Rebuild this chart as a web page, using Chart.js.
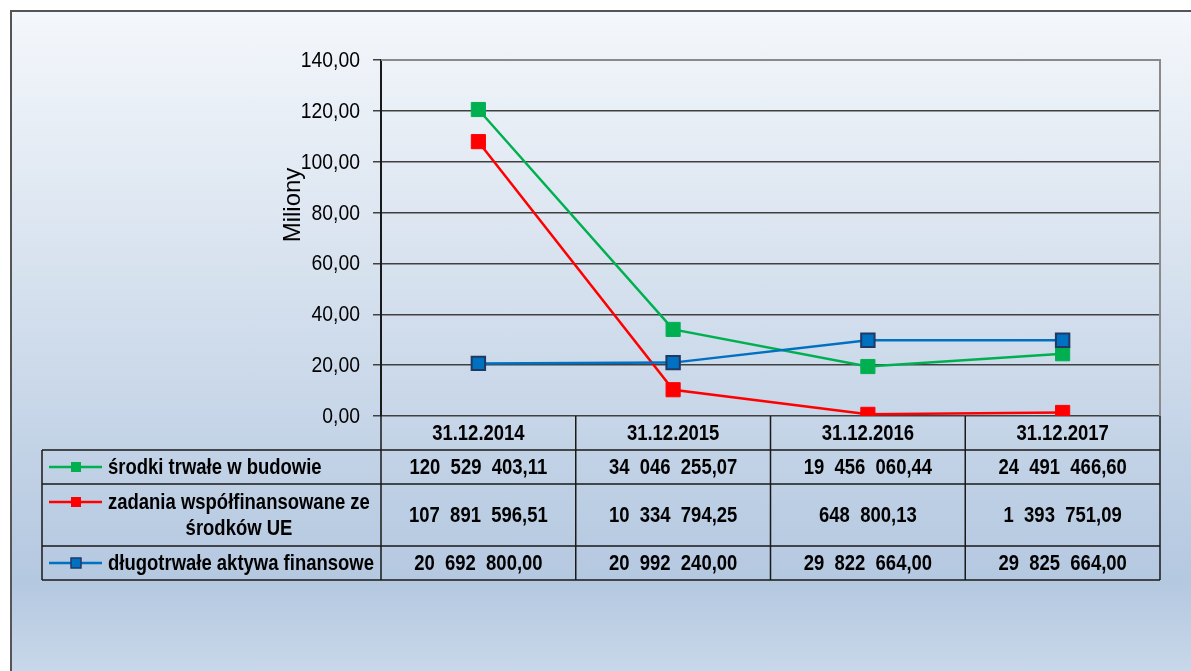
<!DOCTYPE html>
<html lang="pl">
<head>
<meta charset="utf-8">
<title>Wykres</title>
<script src="https://cdn.jsdelivr.net/npm/chart.js@4.4.1/dist/chart.umd.min.js"></script>
<style>
  html, body { margin: 0; padding: 0; background: #fff; overflow: hidden; }
  #frame {
    position: absolute; left: 10px; top: 10px; width: 1200px; height: 700px;
    border: 2px solid #555; box-sizing: border-box;
    background: linear-gradient(to bottom, #f4f7fb 0px, #b4c8e0 570px, #c9d8ea 661px);
  }
  #chart { position: absolute; left: 0; top: 0; }
</style>
</head>
<body>
<div id="frame"></div>
<canvas id="chart" width="1191" height="671"></canvas>
<script>
// Dane
const categories = ["31.12.2014", "31.12.2015", "31.12.2016", "31.12.2017"];
const srodkiTrwale = [120529403.11, 34046255.07, 19456060.44, 24491466.60];
const zadaniaUE = [107891596.51, 10334794.25, 648800.13, 1393751.09];
const aktywaFinansowe = [20692800.00, 20992240.00, 29822664.00, 29825664.00];
const seriesNames = [
  ["środki trwałe w budowie"],
  ["zadania współfinansowane ze", "środków UE"],
  ["długotrwałe aktywa finansowe"],
];
const yTicks = [0, 20, 40, 60, 80, 100, 120, 140];
const yTitle = "Miliony";

const FONT = '"Liberation Sans", Arial, sans-serif';
const NARROW = 0.84; // tekst w oryginale jest zwężony
const colors = ["#00b050", "#ff0000", "#0070c0"];
const allSeries = [srodkiTrwale, zadaniaUE, aktywaFinansowe];

// 120529403.11 -> "120  529  403,11"
function fmtPL(v) {
  const [i, d] = v.toFixed(2).split(".");
  const groups = [];
  for (let k = i.length; k > 0; k -= 3) groups.unshift(i.slice(Math.max(0, k - 3), k));
  return groups.join("  ") + "," + d;
}
const toMln = arr => arr.map(v => v / 1e6);

function narrowText(ctx, text, x, y, align, squeeze) {
  ctx.save();
  ctx.translate(x, y);
  ctx.scale(squeeze, 1);
  ctx.textAlign = align;
  ctx.fillText(text, 0, 0);
  ctx.restore();
}

// üßæ tabela danych pod wykresem + opisy osi Y
const tablePlugin = {
  id: "dataTable",
  beforeDatasetsDraw(chart) {
    const { ctx, chartArea: a } = chart;
    ctx.save();
    ctx.strokeStyle = "#8a8a8a";
    ctx.lineWidth = 2;
    ctx.beginPath();
    ctx.moveTo(a.left, a.top);
    ctx.lineTo(a.right, a.top);
    ctx.lineTo(a.right, a.bottom);
    ctx.stroke();

    // etykiety osi Y
    const ys = chart.scales.y;
    ctx.fillStyle = "#000";
    ctx.font = "22px " + FONT;
    ctx.textBaseline = "middle";
    ys.ticks.forEach(t => {
      const label = Number(t.value).toFixed(2).replace(".", ",");
      narrowText(ctx, label, a.left - 21, ys.getPixelForValue(t.value) + 1, "right", 0.88);
    });

    ctx.save();
    ctx.translate(293, 205);
    ctx.rotate(-Math.PI / 2);
    ctx.font = "24px " + FONT;
    ctx.textAlign = "center";
    ctx.fillText(yTitle, 0, 0);
    ctx.restore();
    ctx.restore();
  },
  afterDraw(chart) {
    const { ctx, chartArea: a } = chart;
    const xs = chart.scales.x;
    const colW = (a.right - a.left) / categories.length;
    const tableLeft = 42;
    const rows = [a.bottom, 450, 484, 546, 580];

    ctx.save();
    ctx.strokeStyle = "#1a1a1a";
    ctx.lineWidth = 1.5;
    ctx.beginPath();
    for (let r = 1; r < rows.length; r++) {
      ctx.moveTo(tableLeft, rows[r]);
      ctx.lineTo(a.right, rows[r]);
    }
    for (let c = 0; c <= categories.length; c++) {
      const x = a.left + c * colW;
      ctx.moveTo(x, a.bottom);
      ctx.lineTo(x, rows[4]);
    }
    ctx.moveTo(tableLeft, rows[1]);
    ctx.lineTo(tableLeft, rows[4]);
    ctx.stroke();

    ctx.fillStyle = "#000";
    ctx.font = "bold 22px " + FONT;
    ctx.textBaseline = "middle";
    categories.forEach((c, i) => {
      narrowText(ctx, c, xs.getPixelForValue(i), (rows[0] + rows[1]) / 2 + 1, "center", NARROW);
    });

    const keyY = [467, 502, 563];
    allSeries.forEach((s, r) => {
      const cy = (rows[r + 1] + rows[r + 2]) / 2 + 1;
      ctx.fillStyle = "#000";
      s.forEach((v, i) => {
        narrowText(ctx, fmtPL(v), xs.getPixelForValue(i), cy, "center", NARROW);
      });

      // klucz legendy
      const ky = keyY[r];
      ctx.strokeStyle = colors[r];
      ctx.lineWidth = 2.5;
      ctx.beginPath();
      ctx.moveTo(49, ky);
      ctx.lineTo(102, ky);
      ctx.stroke();
      ctx.fillStyle = colors[r];
      ctx.fillRect(71, ky - 5, 10, 10);
      if (r === 2) {
        ctx.strokeStyle = "#1f3864";
        ctx.lineWidth = 1.5;
        ctx.strokeRect(71, ky - 5, 10, 10);
      }

      ctx.fillStyle = "#000";
      const lines = seriesNames[r];
      narrowText(ctx, lines[0], 108, ky + 1, "left", NARROW);
      if (lines[1]) narrowText(ctx, lines[1], 239, ky + 27, "center", NARROW);
    });
    ctx.restore();
  },
};

const ctx = document.getElementById("chart").getContext("2d");
new Chart(ctx, {
  type: "line",
  data: {
    labels: categories,
    datasets: allSeries.map((s, i) => ({
      label: seriesNames[i].join(" "),
      data: toMln(s),
      borderColor: colors[i],
      backgroundColor: colors[i],
      borderWidth: 2.5,
      pointStyle: "rect",
      pointRadius: i === 2 ? 9.5 : 10,
      pointBorderColor: i === 2 ? "#1f3864" : colors[i],
      pointBorderWidth: i === 2 ? 2 : 1,
      pointBackgroundColor: colors[i],
      tension: 0,
      order: 3 - i,
    })),
  },
  options: {
    responsive: false,
    animation: false,
    events: [],
    layout: { padding: { left: 270, right: 31, top: 60, bottom: 255 } },
    plugins: {
      legend: { display: false },
      tooltip: { enabled: false },
    },
    scales: {
      x: {
        display: false,
        offset: true,
      },
      y: {
        min: 0,
        max: 140,
        afterBuildTicks: scale => {
          scale.ticks = yTicks.map(v => ({ value: v }));
        },
        afterFit: scale => {
          scale.width = 111;
        },
        border: { display: true, color: "#1a1a1a", width: 2 },
        grid: { color: "#404040", lineWidth: 1.5, tickLength: 8, drawTicks: true },
        ticks: {
          color: "rgba(0,0,0,0)",
          padding: 13,
          font: { family: FONT, size: 22 },
          callback: v => Number(v).toFixed(2).replace(".", ","),
        },
        title: { display: false },
      },
    },
  },
  plugins: [tablePlugin],
});
</script>
</body>
</html>
